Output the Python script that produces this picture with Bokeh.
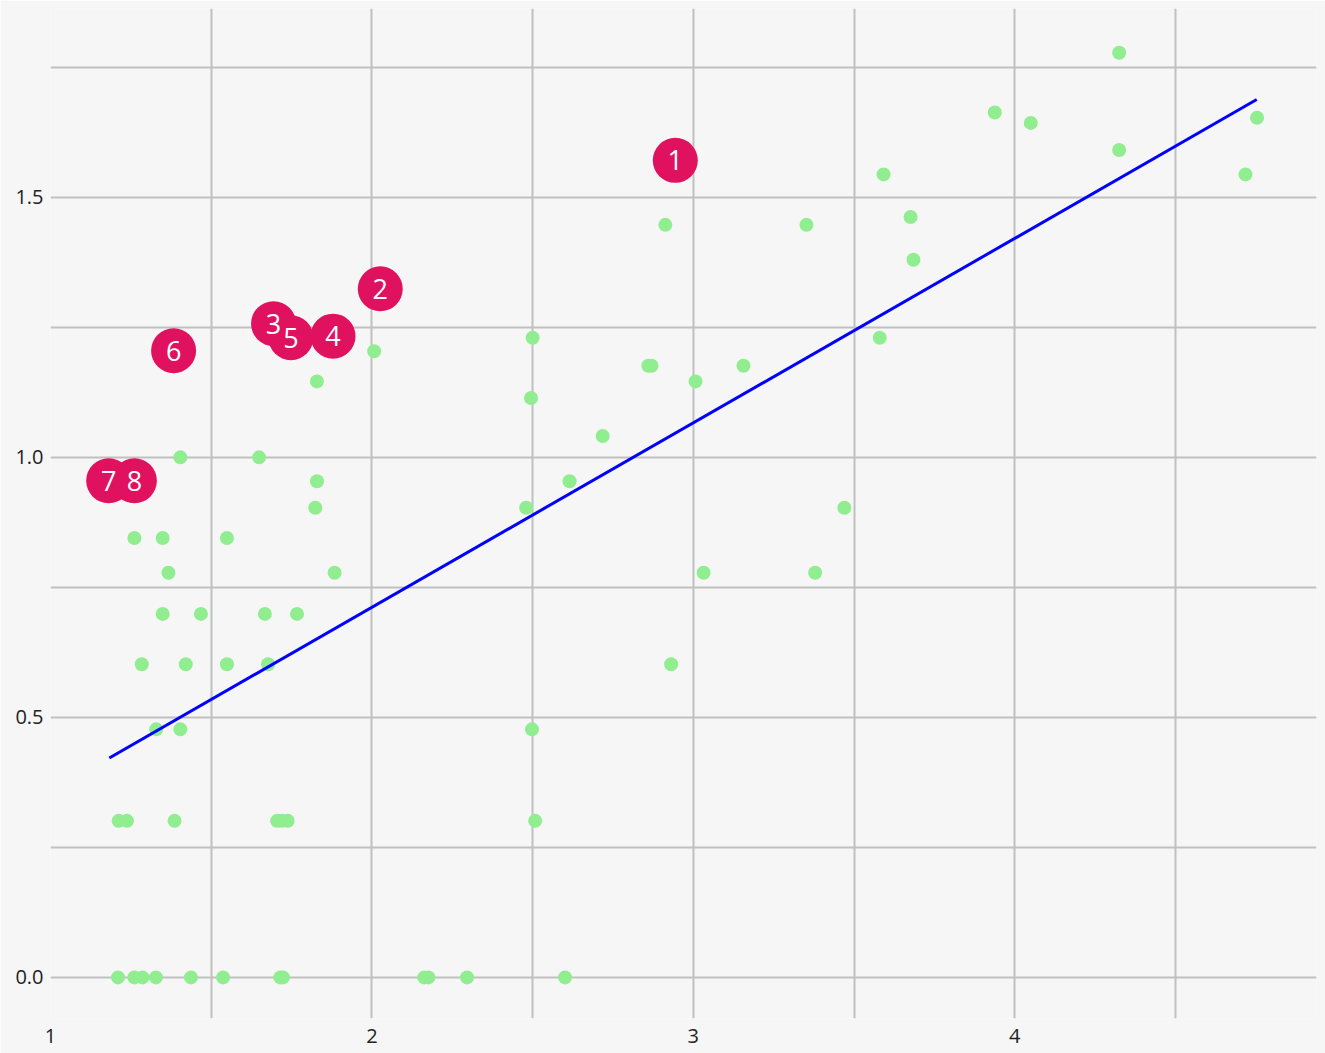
from bokeh.plotting import figure
from bokeh.models import FixedTicker, NumeralTickFormatter, Range1d, ColumnDataSource
from bokeh.core.properties import value
from bokeh.embed import file_html
from bokeh.resources import INLINE

# green observations
green_x = [1.210, 1.261, 1.286, 1.328, 1.437, 1.537, 1.715, 1.723, 2.163, 2.176, 2.296, 2.601,
           1.212, 1.238, 1.386, 1.705, 1.720, 1.738, 2.508,
           1.329, 1.404, 2.498,
           1.284, 1.421, 1.549, 1.677, 2.931,
           1.349, 1.468, 1.667, 1.767,
           1.367, 1.884, 3.032, 3.379,
           1.261, 1.349, 1.549,
           1.824, 2.480, 3.470,
           1.829, 2.615,
           1.404, 1.649,
           2.718,
           2.495,
           1.829, 3.007,
           2.860, 2.870, 3.156,
           2.007,
           2.500, 3.580,
           3.685,
           2.913, 3.352,
           3.676,
           3.592, 4.718,
           4.325,
           4.050,
           4.754,
           3.938,
           4.325]
green_y = [0.000, 0.000, 0.000, 0.000, 0.000, 0.000, 0.000, 0.000, 0.000, 0.000, 0.000, 0.000,
           0.301, 0.301, 0.301, 0.301, 0.301, 0.301, 0.301,
           0.477, 0.477, 0.477,
           0.602, 0.602, 0.602, 0.602, 0.602,
           0.699, 0.699, 0.699, 0.699,
           0.778, 0.778, 0.778, 0.778,
           0.845, 0.845, 0.845,
           0.903, 0.903, 0.903,
           0.954, 0.954,
           1.000, 1.000,
           1.041,
           1.114,
           1.146, 1.146,
           1.176, 1.176, 1.176,
           1.204,
           1.230, 1.230,
           1.380,
           1.447, 1.447,
           1.462,
           1.544, 1.544,
           1.591,
           1.643,
           1.653,
           1.663,
           1.778]

# numbered highlighted points
label_x = [2.944, 2.026, 1.694, 1.879, 1.748, 1.383, 1.181, 1.261]
label_y = [1.571, 1.324, 1.257, 1.233, 1.230, 1.205, 0.955, 0.955]
label_text = ["1", "2", "3", "4", "5", "6", "7", "8"]

# trend line end points
trend_x = [1.183, 4.753]
trend_y = [0.422, 1.688]

# ticks and grid
x_ticks = [1, 2, 3, 4]
x_grid = [1, 1.5, 2, 2.5, 3, 3.5, 4, 4.5]
y_ticks = [0, 0.5, 1.0, 1.5]
y_grid = [0, 0.25, 0.5, 0.75, 1.0, 1.25, 1.5, 1.75]

BG = "#f6f6f6"
GRID = "#c0c0c0"
FONT = "Open Sans"

p = figure(width=1325, height=1053,
           x_range=Range1d(1.0, 4.939), y_range=Range1d(-0.079, 1.863),
           output_backend="svg", toolbar_location=None,
           min_border_left=50, min_border_right=9, min_border_top=8, min_border_bottom=35)

p.background_fill_color = BG
p.border_fill_color = BG
p.outline_line_color = None

p.xaxis.ticker = FixedTicker(ticks=x_ticks)
p.yaxis.ticker = FixedTicker(ticks=y_ticks)
p.xgrid.ticker = FixedTicker(ticks=x_grid)
p.ygrid.ticker = FixedTicker(ticks=y_grid)
p.xaxis.formatter = NumeralTickFormatter(format="0")
p.yaxis.formatter = NumeralTickFormatter(format="0.0")

for g in (p.xgrid, p.ygrid):
    g.grid_line_color = GRID
    g.grid_line_width = 2

for ax in (p.xaxis, p.yaxis):
    ax.axis_line_color = None
    ax.major_tick_line_color = None
    ax.minor_tick_line_color = None
    ax.major_tick_out = 0
    ax.major_tick_in = 0
    ax.major_label_text_font = FONT
    ax.major_label_text_font_size = "20px"
    ax.major_label_text_color = "#222222"
p.xaxis.major_label_standoff = 10
p.yaxis.major_label_standoff = 7

green = ColumnDataSource(dict(x=green_x, y=green_y))
p.scatter("x", "y", source=green, size=14, fill_color="#90ee90", line_color=None)

p.line(trend_x, trend_y, line_color="#0000ff", line_width=3)

labels = ColumnDataSource(dict(x=label_x, y=label_y, t=label_text))
p.scatter("x", "y", source=labels, size=45, fill_color="#e0115f", line_color=None)
p.text("x", "y", text="t", source=labels, text_align="center", text_baseline="middle",
       text_color="white", text_font=value(FONT), text_font_size="27px")

open("out.html", "w").write(file_html(p, INLINE))
